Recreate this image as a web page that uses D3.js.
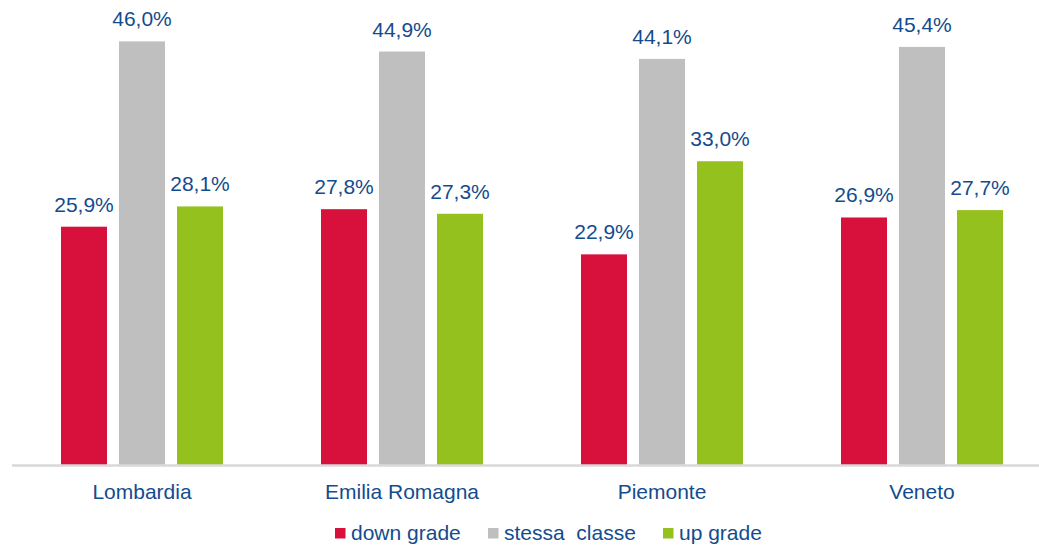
<!DOCTYPE html>
<html><head><meta charset="utf-8">
<script src="https://cdn.jsdelivr.net/npm/d3@7/dist/d3.min.js"></script>
<style>body{margin:0;background:#fff}svg{display:block}text{font-family:"Liberation Sans",Arial,sans-serif}</style>
</head><body><svg id="c" width="1039" height="545"></svg>
<script>
const categories = ["Lombardia","Emilia Romagna","Piemonte","Veneto"];
const seriesNames = ["down grade","stessa  classe","up grade"];
const downGrade = [25.9, 27.8, 22.9, 26.9];
const stessaClasse = [46.0, 44.9, 44.1, 45.4];
const upGrade = [28.1, 27.3, 33.0, 27.7];
const colors = ["#D7113C","#BFBFBF","#95C11F"];
const seriesValues = [downGrade, stessaClasse, upGrade];

const svg = d3.select("#c");
const textColor = "#134C8E";
const fs = 21;
const baseY = 465.5;
const x0 = d3.scaleBand().domain(categories).range([12, 1052]).paddingInner(0).paddingOuter(0);
const x1 = d3.scaleBand().domain(seriesNames).range([49, 211]).paddingInner(0.207).paddingOuter(0);
const y = d3.scaleLinear().domain([0, 50]).range([baseY, baseY - 461]);

const g = svg.append("g");
categories.forEach((cat, i) => {
  const gg = g.append("g").attr("transform", `translate(${x0(cat)},0)`);
  seriesNames.forEach((s, j) => {
    const v = seriesValues[j][i];
    gg.append("rect").attr("x", x1(s)).attr("width", x1.bandwidth())
      .attr("y", y(v)).attr("height", baseY - y(v)).attr("fill", colors[j]);
    gg.append("text").attr("x", x1(s) + x1.bandwidth()/2).attr("y", y(v) - 15)
      .attr("text-anchor", "middle").attr("font-size", fs).attr("fill", textColor)
      .text(v.toFixed(1).replace(".", ",") + "%");
  });
});

// axis
const xAxis = d3.axisBottom(x0).tickSize(0).tickPadding(0);
const ax = svg.append("g").attr("transform", `translate(0,${baseY})`).call(xAxis);
ax.select(".domain").attr("stroke", "#D9D9D9").attr("stroke-width", 2.5).attr("d", "M12,0H1039");
ax.selectAll("text").attr("font-size", fs).attr("fill", textColor).attr("dy", 0).attr("y", 33)
  .style("font-family", '"Liberation Sans",Arial,sans-serif');

// legend
const legendX = [335, 488, 663];
const lg = svg.append("g");
seriesNames.forEach((s, j) => {
  lg.append("rect").attr("x", legendX[j]).attr("y", 528).attr("width", 10.5).attr("height", 10.5).attr("fill", colors[j]);
  lg.append("text").attr("x", legendX[j] + 16).attr("y", 539.5).attr("font-size", fs)
    .attr("fill", textColor).attr("xml:space", "preserve").style("white-space", "pre").text(s);
});
</script></body></html>
